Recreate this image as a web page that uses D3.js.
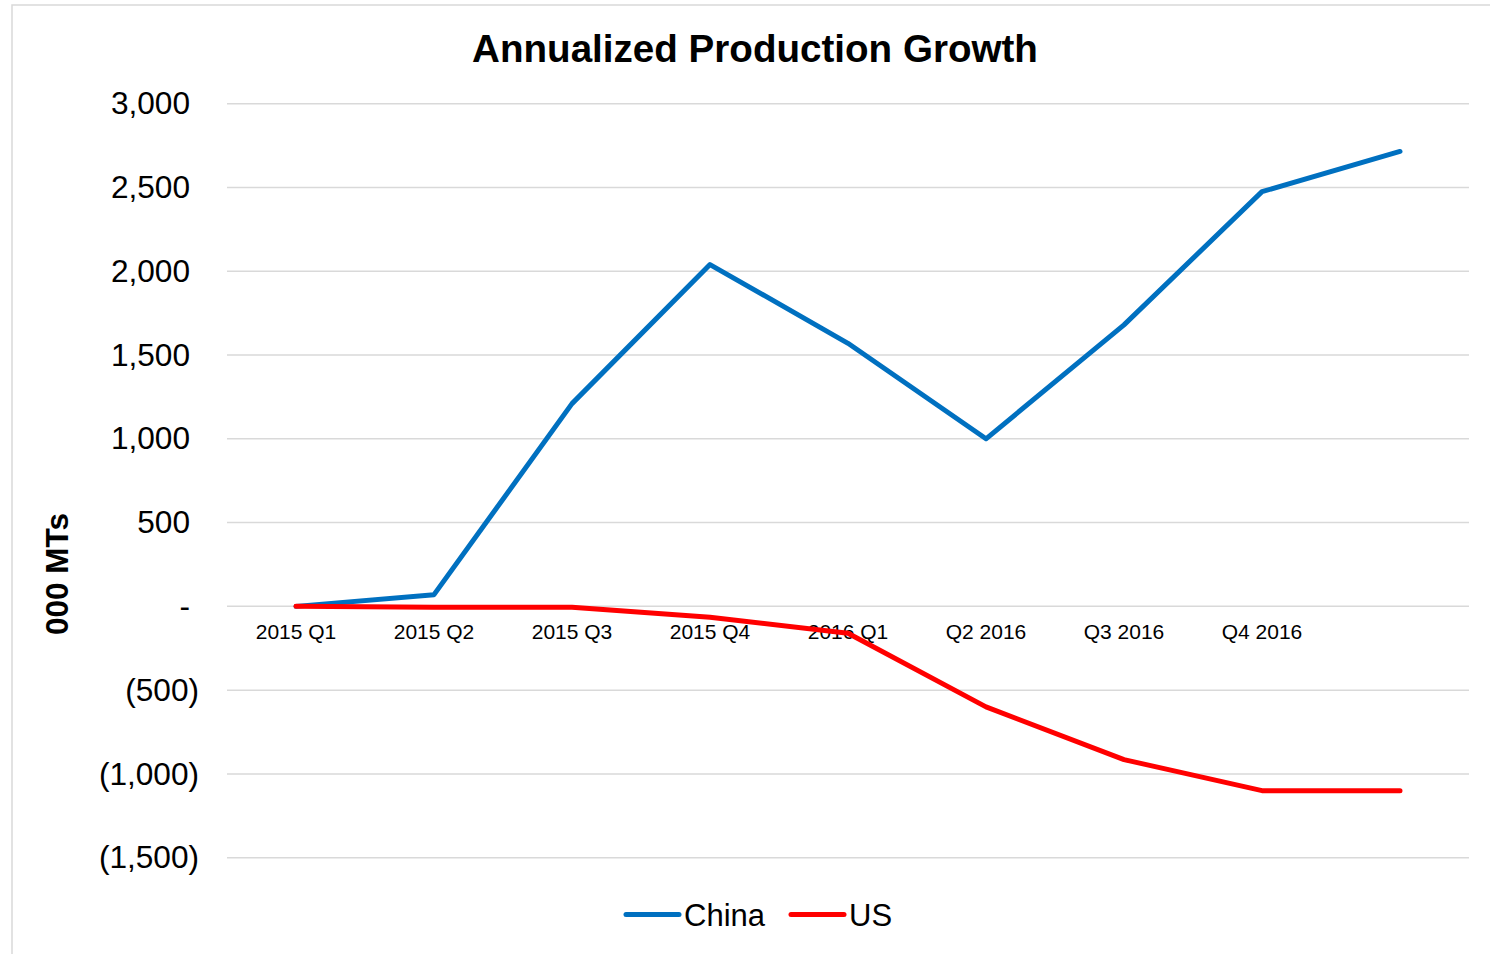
<!DOCTYPE html>
<html>
<head>
<meta charset="utf-8">
<script src="https://cdn.jsdelivr.net/npm/d3@7"></script>
<style>
  html, body { margin: 0; padding: 0; background: #ffffff; }
  svg { display: block; font-family: "Liberation Sans", Arial, sans-serif; }
</style>
</head>
<body>
<svg id="chart" width="1490" height="954"></svg>
<script>
// Quarterly categories (the last point carries no label)
const categories = ["2015 Q1", "2015 Q2", "2015 Q3", "2015 Q4", "2016 Q1", "Q2 2016", "Q3 2016", "Q4 2016", ""];
// Annualized production growth, thousand metric tons
const chinaValues = [0, 70, 1210, 2040, 1570, 1000, 1680, 2475, 2715];
const usValues = [0, -5, -5, -65, -160, -600, -915, -1100, -1100];
const yTicks = [3000, 2500, 2000, 1500, 1000, 500, 0, -500, -1000, -1500];

const series = [
  { name: "China", values: chinaValues, color: "#0070C0" },
  { name: "US", values: usValues, color: "#FF0000" }
];

const svg = d3.select("#chart");

// Outer chart-area frame
svg.append("rect")
  .attr("x", 12).attr("y", 5)
  .attr("width", 1500).attr("height", 1000)
  .attr("fill", "none")
  .attr("stroke", "#d9d9d9")
  .attr("stroke-width", 1.5);

const plot = { left: 227, right: 1469, top: 103.7, bottom: 857.7 };

const x = d3.scaleBand()
  .domain(d3.range(categories.length))
  .range([plot.left, plot.right]);

const y = d3.scaleLinear()
  .domain([-1500, 3000])
  .range([plot.bottom, plot.top]);

// Horizontal gridlines
svg.append("g")
  .selectAll("line")
  .data(yTicks)
  .join("line")
  .attr("x1", plot.left).attr("x2", plot.right)
  .attr("y1", d => y(d)).attr("y2", d => y(d))
  .attr("stroke", "#d9d9d9")
  .attr("stroke-width", 1.5);

// Accounting-style value labels
const fmt = d3.format(",");
const yFormat = v => v > 0 ? fmt(v) : (v === 0 ? "-" : "(" + fmt(-v) + ")");

const yAxis = d3.axisLeft(y)
  .tickValues(yTicks)
  .tickFormat(yFormat)
  .tickSize(0)
  .tickPadding(0);

const yAxisG = svg.append("g")
  .attr("transform", "translate(199,0)")
  .call(yAxis);
yAxisG.select(".domain").remove();
yAxisG.selectAll("text")
  .attr("font-family", "Liberation Sans, Arial, sans-serif")
  .attr("font-size", 31.6)
  .attr("fill", "#000")
  .attr("x", d => d >= 0 ? -9 : 0);

// Category labels just below the zero line
const xAxis = d3.axisBottom(x)
  .tickFormat(i => categories[i])
  .tickSize(0)
  .tickPadding(0);

const xAxisG = svg.append("g")
  .attr("transform", `translate(0,${y(0)})`)
  .call(xAxis);
xAxisG.select(".domain").remove();
xAxisG.selectAll("text")
  .attr("font-family", "Liberation Sans, Arial, sans-serif")
  .attr("font-size", 21)
  .attr("fill", "#000")
  .attr("y", 25)
  .attr("dy", "0.35em");

// Series lines
const line = d3.line()
  .x((d, i) => x(i) + x.bandwidth() / 2)
  .y(d => y(d));

svg.append("g")
  .selectAll("path")
  .data(series)
  .join("path")
  .attr("d", d => line(d.values))
  .attr("fill", "none")
  .attr("stroke", d => d.color)
  .attr("stroke-width", 5)
  .attr("stroke-linejoin", "round")
  .attr("stroke-linecap", "round");

// Title
svg.append("text")
  .attr("x", 755).attr("y", 62)
  .attr("text-anchor", "middle")
  .attr("font-size", 38.6)
  .attr("font-weight", "bold")
  .attr("fill", "#000")
  .text("Annualized Production Growth");

// Y-axis title
svg.append("text")
  .attr("transform", "translate(68,574) rotate(-90)")
  .attr("text-anchor", "middle")
  .attr("font-size", 31.5)
  .attr("font-weight", "bold")
  .attr("fill", "#000")
  .text("000 MTs");

// Legend
const legendItems = [
  { name: "China", color: "#0070C0", x: 626 },
  { name: "US", color: "#FF0000", x: 791 }
];
const lg = svg.append("g")
  .selectAll("g")
  .data(legendItems)
  .join("g")
  .attr("transform", d => `translate(${d.x},914.5)`);
lg.append("line")
  .attr("x1", 0).attr("x2", 53)
  .attr("y1", 0).attr("y2", 0)
  .attr("stroke", d => d.color)
  .attr("stroke-width", 5)
  .attr("stroke-linecap", "round");
lg.append("text")
  .attr("x", 58).attr("y", 11.5)
  .attr("font-size", 31)
  .attr("fill", "#000")
  .text(d => d.name);
</script>
</body>
</html>
